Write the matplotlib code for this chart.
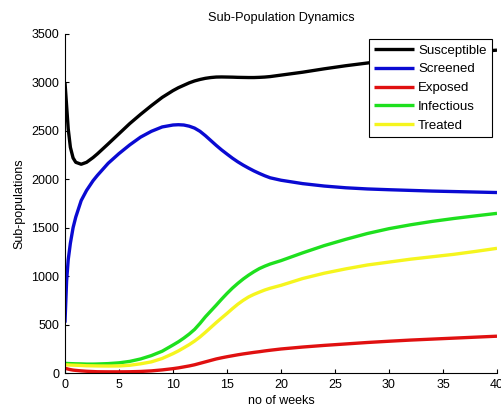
import matplotlib
matplotlib.use("Agg")
import matplotlib.pyplot as plt

plt.rcParams['font.family'] = ['Liberation Sans', 'DejaVu Sans']
plt.rcParams['font.size'] = 9

# weeks (denser where curves bend)
weeks = [0, 0.15, 0.3, 0.5, 0.75, 1, 1.5, 2, 2.6, 3, 4, 5, 6, 7, 8, 9, 10,
         10.5, 11, 11.5, 12, 12.5, 13, 13.5, 14, 14.5, 15, 15.5, 16, 16.5,
         17, 17.5, 18, 18.5, 19, 20, 22, 24, 26, 28, 30, 32, 34, 36, 38, 40]

susceptible = [3000, 2760, 2520, 2330, 2220, 2175, 2155, 2175, 2224, 2262,
               2365, 2470, 2575, 2670, 2760, 2845, 2915,
               2945, 2970, 2995, 3015, 3030, 3042, 3050, 3055, 3056, 3055,
               3054, 3052, 3051, 3050, 3050, 3052, 3055, 3060, 3075, 3105,
               3140, 3172, 3200, 3228, 3252, 3275, 3295, 3315, 3333]
screened = [520, 950, 1170, 1340, 1500, 1610, 1780, 1885, 1985, 2040, 2165,
            2265, 2355, 2435, 2495, 2540, 2560,
            2563, 2560, 2548, 2528, 2495, 2450, 2400, 2350, 2303, 2260, 2218,
            2180, 2146, 2115, 2086, 2060, 2036, 2015, 1990, 1955, 1930, 1912,
            1900, 1892, 1885, 1878, 1873, 1868, 1863]
exposed = [50, 45, 40, 35, 30, 27, 22, 18, 15, 13, 12, 12, 13, 16, 22, 32,
           45, 53, 63, 73, 85, 100, 115, 130, 145, 157, 168, 178, 188, 197,
           205, 213, 220, 228, 235, 248, 268, 285, 300, 315, 328, 340, 350,
           360, 370, 380]
infectious = [100, 99, 98, 97, 96, 95, 94, 92, 92, 93, 97, 105, 120, 145,
              180, 225, 289, 322, 360, 402, 450, 512, 580, 640, 700, 762, 821,
              876, 925, 970, 1010, 1046, 1078, 1103, 1125, 1160, 1240, 1315,
              1380, 1440, 1490, 1530, 1565, 1595, 1622, 1648]
treated = [85, 84, 83, 82, 81, 80, 78, 75, 74, 73, 72, 73, 80, 95, 115, 150,
           200, 228, 260, 293, 330, 372, 420, 470, 520, 568, 615, 664, 710,
           750, 785, 812, 835, 857, 875, 905, 975, 1030, 1075, 1115, 1145,
           1175, 1200, 1225, 1255, 1287]

labels = ["Susceptible", "Screened", "Exposed", "Infectious", "Treated"]
series = [susceptible, screened, exposed, infectious, treated]
line_colors = ["#000000", "#0a0ad2", "#e01010", "#1ee01e", "#f5f51e"]

fig = plt.figure(figsize=(5.01, 4.09), dpi=100)
ax = fig.add_axes([0.1297, 0.088, 0.8623, 0.829])

for vals, lab, col in zip(series, labels, line_colors):
    ax.plot(weeks, vals, color=col, lw=2.4, label=lab, solid_capstyle='butt')

ax.set_xlim(0, 40)
ax.set_ylim(0, 3500)
ax.set_xticks(range(0, 41, 5))
ax.set_yticks(range(0, 3501, 500))
ax.tick_params(direction='in', length=3, width=0.8, pad=4)
ax.spines['top'].set_visible(False)
ax.spines['right'].set_visible(False)

ax.set_title("Sub-Population Dynamics", fontsize=9.2, pad=9)
ax.set_xlabel("no of weeks", labelpad=3)
ax.set_ylabel("Sub-populations", labelpad=4)

leg = ax.legend(loc='upper right', bbox_to_anchor=(0.988, 0.985),
                borderaxespad=0, fontsize=9.5,
                handlelength=3.0, handletextpad=0.3, labelspacing=0.5,
                borderpad=0.4, fancybox=False, framealpha=1,
                edgecolor='black')
leg.get_frame().set_linewidth(0.8)

plt.savefig("out.png", dpi=100)
plt.close()
